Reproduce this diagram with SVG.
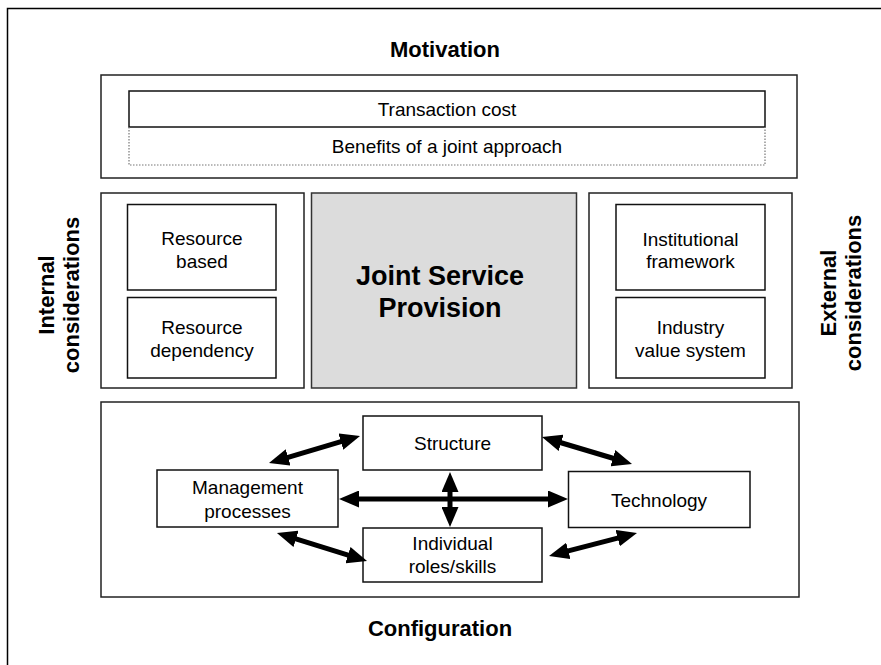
<svg xmlns="http://www.w3.org/2000/svg" width="881" height="665" viewBox="0 0 881 665">
  <style>
    .frame { fill: none; stroke: #000; stroke-width: 1.5; }
    .panel { fill: #fff; stroke: #222; stroke-width: 1.5; }
    .box { fill: #fff; stroke: #111; stroke-width: 1.5; }
    .core { fill: #dcdcdc; stroke: #333; stroke-width: 1.5; }
    .lbl { font-family: "Liberation Sans", Arial, sans-serif; font-size: 19px; fill: #000; text-anchor: middle; }
    .head { font-family: "Liberation Sans", Arial, sans-serif; font-size: 22px; font-weight: bold; fill: #000; text-anchor: middle; }
    .big { font-family: "Liberation Sans", Arial, sans-serif; font-size: 27px; font-weight: bold; fill: #000; text-anchor: middle; }
    .link { fill: none; stroke: #000; stroke-width: 5; marker-start: url(#tip); marker-end: url(#tip); }
  </style>
  <defs>
    <marker id="tip" markerUnits="userSpaceOnUse" markerWidth="20" markerHeight="17" refX="1" refY="8.5" orient="auto-start-reverse">
      <path d="M0,0 L20,8.5 L0,17 Z" fill="#000"/>
    </marker>
  </defs>

  <rect width="881" height="665" fill="#fff"/>

  <!-- outer frame, running past the page edge -->
  <rect class="frame" x="7.5" y="8.5" width="900" height="700"/>

  <!-- Motivation -->
  <g id="motivation">
    <text class="head" x="445" y="57">Motivation</text>
    <rect class="panel" x="101" y="75" width="696" height="103"/>
    <g id="transaction-cost">
      <rect class="box" x="129" y="91" width="636" height="36"/>
      <text class="lbl" x="447" y="116">Transaction cost</text>
    </g>
    <g id="benefits">
      <path d="M129,127 V165 H765 V127" fill="none" stroke="#777" stroke-width="1.2" stroke-dasharray="1.5 1.5"/>
      <text class="lbl" x="447" y="153">Benefits of a joint approach</text>
    </g>
  </g>

  <!-- Internal considerations -->
  <g id="internal">
    <text class="head" transform="translate(54,295) rotate(-90)">Internal</text>
    <text class="head" transform="translate(79,295) rotate(-90)">considerations</text>
    <rect class="panel" x="101" y="193" width="203" height="195"/>
    <g id="resource-based">
      <rect class="box" x="127.5" y="204.5" width="148.5" height="85.5"/>
      <text class="lbl" x="202" y="245">Resource</text>
      <text class="lbl" x="202" y="268">based</text>
    </g>
    <g id="resource-dependency">
      <rect class="box" x="127.5" y="297.5" width="148.5" height="80.5"/>
      <text class="lbl" x="202" y="334">Resource</text>
      <text class="lbl" x="202" y="357">dependency</text>
    </g>
  </g>

  <!-- Core -->
  <g id="joint-service-provision">
    <rect class="core" x="311.5" y="193" width="265" height="195"/>
    <text class="big" x="440" y="285">Joint Service</text>
    <text class="big" x="440" y="317">Provision</text>
  </g>

  <!-- External considerations -->
  <g id="external">
    <rect class="panel" x="589" y="193" width="203" height="195"/>
    <g id="institutional-framework">
      <rect class="box" x="616" y="204.5" width="149" height="85.5"/>
      <text class="lbl" x="690.5" y="246">Institutional</text>
      <text class="lbl" x="690.5" y="268">framework</text>
    </g>
    <g id="industry-value-system">
      <rect class="box" x="616" y="297.5" width="149" height="80.5"/>
      <text class="lbl" x="690.5" y="334">Industry</text>
      <text class="lbl" x="690.5" y="357">value system</text>
    </g>
    <text class="head" transform="translate(836,293) rotate(-90)">External</text>
    <text class="head" transform="translate(861,293) rotate(-90)">considerations</text>
  </g>

  <!-- Configuration -->
  <g id="configuration">
    <rect class="panel" x="101" y="402" width="698" height="195"/>
    <text class="head" x="440" y="636">Configuration</text>
  </g>
  <g id="structure">
    <rect class="box" x="363" y="416" width="179" height="54"/>
    <text class="lbl" x="452.5" y="450">Structure</text>
  </g>
  <g id="management-processes">
    <rect class="box" x="157" y="470" width="181" height="57"/>
    <text class="lbl" x="247.5" y="494">Management</text>
    <text class="lbl" x="247.5" y="518">processes</text>
  </g>
  <g id="technology">
    <rect class="box" x="568.5" y="471.5" width="181.5" height="56"/>
    <text class="lbl" x="659" y="507">Technology</text>
  </g>
  <g id="individual-roles">
    <rect class="box" x="363" y="528" width="179" height="54"/>
    <text class="lbl" x="452.5" y="550">Individual</text>
    <text class="lbl" x="452.5" y="573">roles/skills</text>
  </g>

  <!-- two-headed connectors -->
  <g id="connectors">
    <path class="link" d="M287.2,457.6 L341.8,441.4"/>
    <path class="link" d="M560.2,442.5 L613.8,458.5"/>
    <path class="link" d="M295.1,538.6 L348.9,555.4"/>
    <path class="link" d="M567.4,551.2 L618.6,537.8"/>
    <path class="link" d="M358,499 L549,499"/>
    <path class="link" d="M450,491 L450,508"/>
  </g>
</svg>
